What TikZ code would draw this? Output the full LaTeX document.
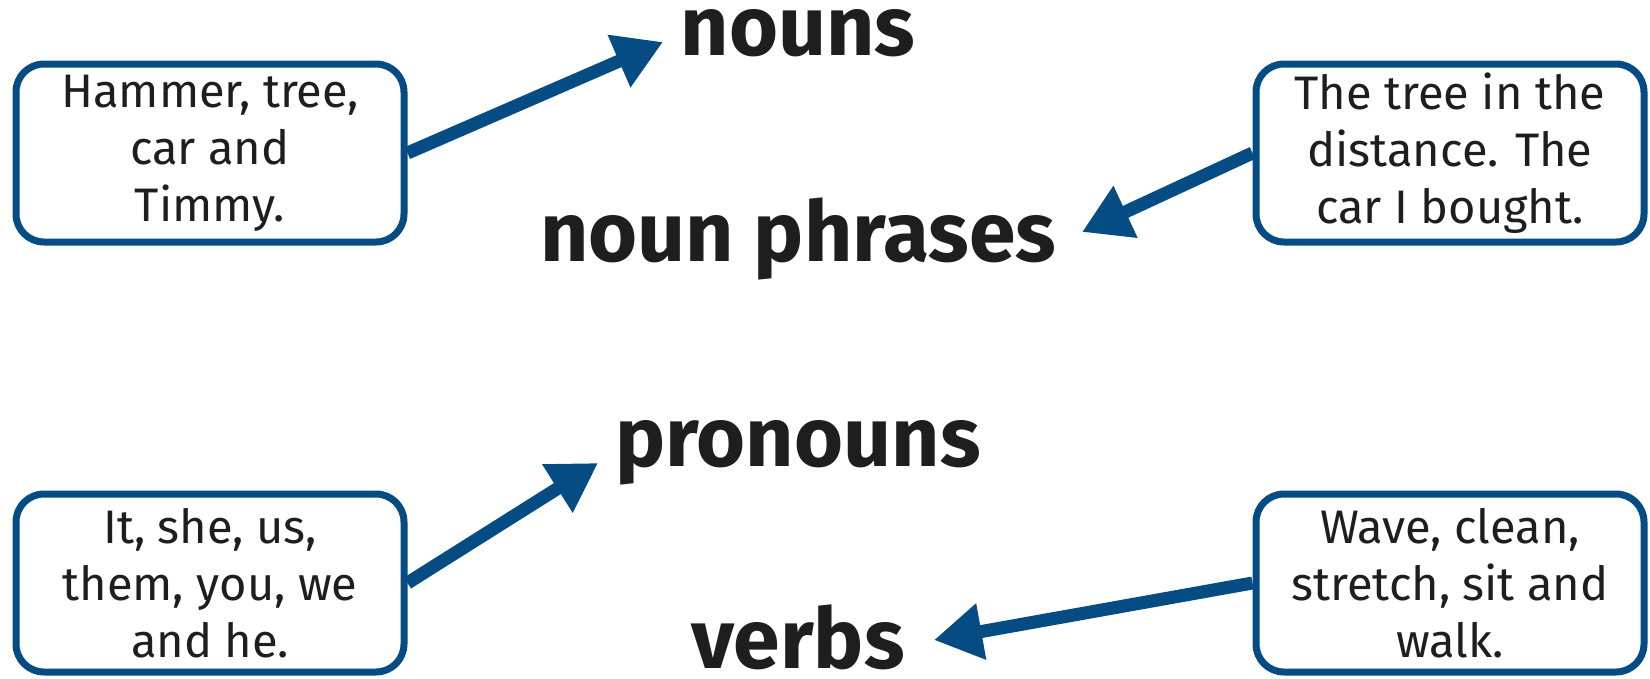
\documentclass[tikz,border=0pt]{standalone}
\usepackage{fontspec}
\setmainfont{Fira Sans}
\usepackage{tikz}
\usetikzlibrary{arrows.meta, positioning, calc}

\definecolor{wordblue}{HTML}{054C84}
\definecolor{inkgray}{HTML}{1E1E1E}

\begin{document}
\begin{tikzpicture}[x=1pt, y=-1pt, >={Triangle[length=48pt, width=54pt]}]

        % --- Styles ---
        \tikzstyle{example} = [rectangle, rounded corners=28pt, draw=wordblue, line width=7pt, fill=white, minimum width=388pt, minimum height=178pt, align=center, text=inkgray, font=\fontsize{47}{57}\selectfont]
        \tikzstyle{wordclass} = [anchor=base, text=inkgray, font=\fontsize{84}{84}\selectfont\bfseries]
        \tikzstyle{arrow} = [wordblue, line width=13pt, ->]

        \useasboundingbox (0,0) rectangle (1650,678);

        % --- Word classes ---
        \node (nouns) [wordclass] at (798,55) {nouns};
        \node (phrases) [wordclass] at (798,261) {noun phrases};
        \node (pronouns) [wordclass] at (798,466) {pronouns};
        \node (verbs) [wordclass] at (798,668) {verbs};

        % --- Example boxes ---
        \node (nounbox) [example] at (210,153) {Hammer, tree,\\car and\\Timmy.};
        \node (phrasebox) [example] at (1450,153) {The tree in the\\distance. The\\car I bought.};
        \node (pronounbox) [example] at (210,583) {It, she, us,\\them, you, we\\and he.};
        \node (verbbox) [example] at (1450,583) {Wave, clean,\\stretch, sit and\\walk.};

        % --- Arrow tips ---
        \coordinate (nounstip) at (663,42);
        \coordinate (phrasestip) at (1082,232);
        \coordinate (pronounstip) at (598,463);
        \coordinate (verbstip) at (934,640);

        % --- Arrows ---
        \draw[arrow] (nounbox.east) -- (nounstip);
        \draw[arrow] (phrasebox.west) -- (phrasestip);
        \draw[arrow] (pronounbox.east) -- (pronounstip);
        \draw[arrow] (verbbox.west) -- (verbstip);
\end{tikzpicture}
\end{document}
